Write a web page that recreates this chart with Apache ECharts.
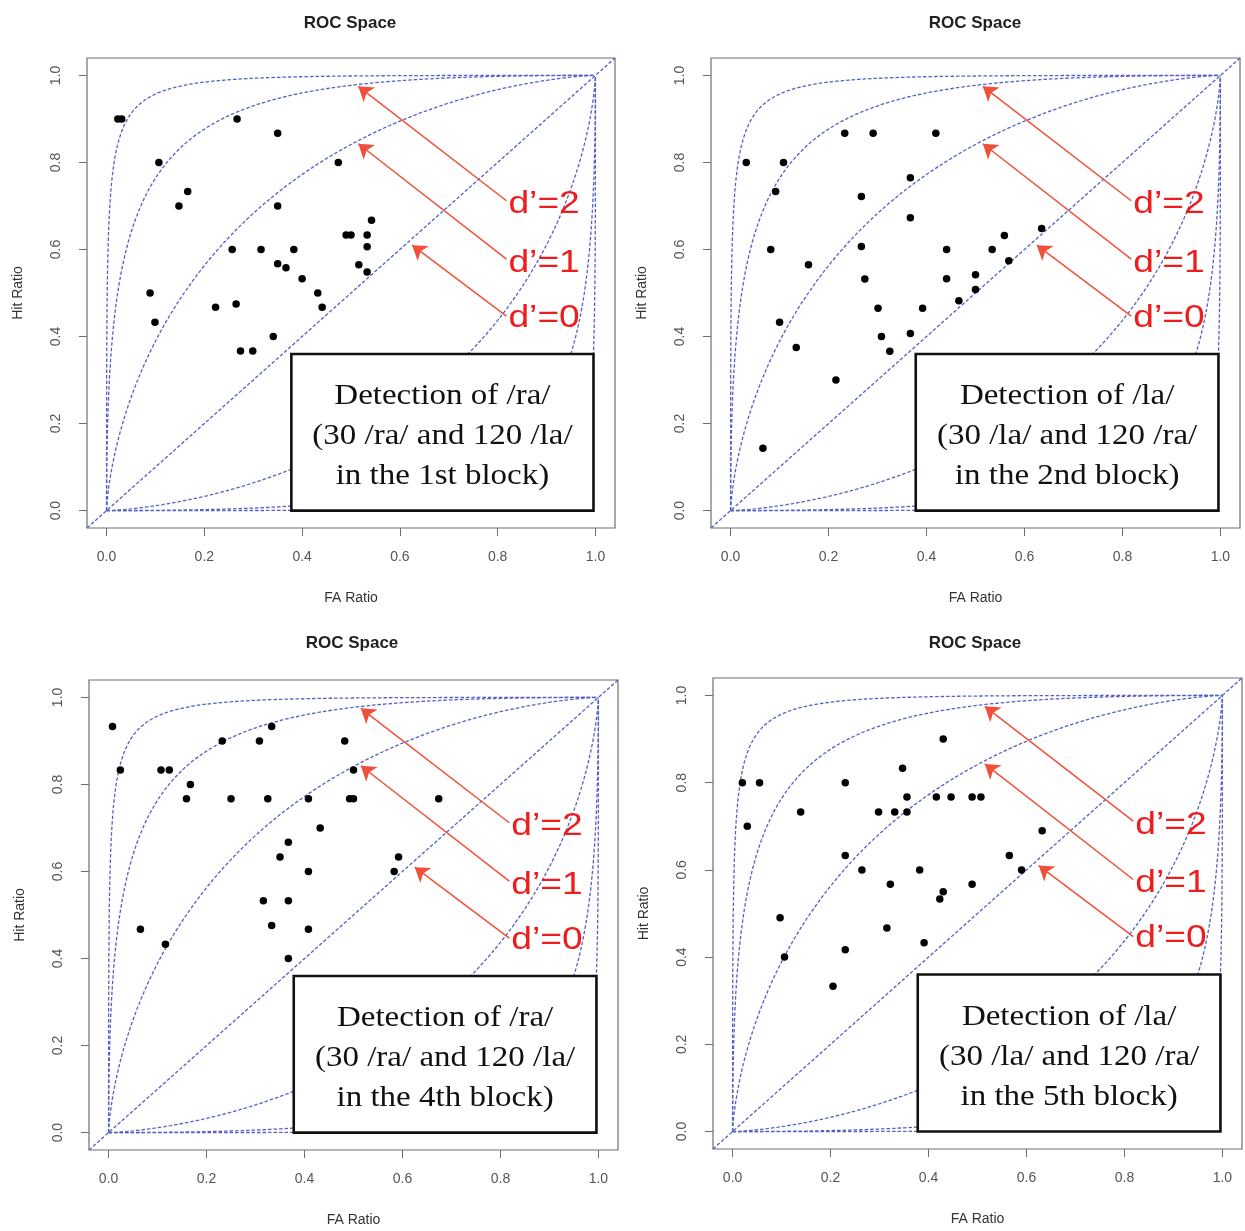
<!DOCTYPE html>
<html><head><meta charset="utf-8">
<script src="https://cdn.jsdelivr.net/npm/echarts@6/dist/echarts.min.js"></script>
<style>html,body{margin:0;padding:0;background:#fff}#c{width:1245px;height:1231px}</style>
</head><body><div id="c"></div>
<script>
// ---------- data ----------
const tickValues = [0, 0.2, 0.4, 0.6, 0.8, 1.0];
const dPrimes = [-3, -2, -1, 0, 1, 2, 3];
const arrowLabels = ["d\u2019=2", "d\u2019=1", "d\u2019=0"];
const panelTitle = "ROC Space";
const xName = "FA Ratio";
const yName = "Hit Ratio";

const fa1 = [0.023,0.031,0.267,0.350,0.107,0.474,0.166,0.148,0.350,0.542,0.490,0.500,0.533,0.533,0.257,0.316,0.383,0.350,0.367,0.400,0.516,0.533,0.432,0.441,0.089,0.099,0.223,0.265,0.341,0.274,0.299];
const hit1 = [0.900,0.900,0.900,0.867,0.800,0.800,0.733,0.700,0.700,0.667,0.633,0.633,0.633,0.606,0.600,0.600,0.600,0.567,0.558,0.533,0.565,0.548,0.500,0.467,0.500,0.433,0.467,0.475,0.400,0.367,0.367];

const fa2 = [0.233,0.291,0.419,0.032,0.108,0.092,0.367,0.267,0.367,0.635,0.559,0.082,0.267,0.441,0.534,0.568,0.159,0.274,0.441,0.500,0.500,0.466,0.301,0.392,0.100,0.308,0.367,0.325,0.134,0.215,0.066];
const hit2 = [0.867,0.867,0.867,0.800,0.800,0.733,0.765,0.722,0.673,0.648,0.632,0.600,0.607,0.600,0.600,0.574,0.565,0.532,0.533,0.542,0.508,0.482,0.465,0.465,0.433,0.400,0.407,0.366,0.375,0.300,0.143];

const fa3 = [0.008,0.024,0.107,0.124,0.167,0.159,0.250,0.325,0.408,0.492,0.500,0.674,0.232,0.308,0.333,0.482,0.500,0.432,0.367,0.350,0.592,0.408,0.583,0.316,0.367,0.065,0.333,0.408,0.116,0.367];
const hit3 = [0.933,0.833,0.833,0.833,0.800,0.767,0.767,0.767,0.767,0.767,0.767,0.767,0.900,0.900,0.933,0.900,0.833,0.700,0.667,0.633,0.633,0.600,0.600,0.533,0.533,0.467,0.476,0.467,0.433,0.400];

const fa4 = [0.430,0.347,0.020,0.055,0.230,0.356,0.416,0.446,0.489,0.507,0.139,0.298,0.331,0.356,0.030,0.632,0.230,0.565,0.264,0.382,0.590,0.322,0.489,0.430,0.423,0.097,0.315,0.391,0.230,0.106,0.205];
const hit4 = [0.900,0.833,0.800,0.800,0.800,0.767,0.767,0.767,0.767,0.767,0.733,0.733,0.733,0.733,0.700,0.690,0.633,0.633,0.600,0.600,0.600,0.567,0.567,0.550,0.533,0.490,0.467,0.433,0.417,0.400,0.333];

const boxText1 = ["Detection of /ra/", "(30 /ra/ and 120 /la/", "in the 1st block)"];
const boxText2 = ["Detection of /la/", "(30 /la/ and 120 /ra/", "in the 2nd block)"];
const boxText3 = ["Detection of /ra/", "(30 /ra/ and 120 /la/", "in the 4th block)"];
const boxText4 = ["Detection of /la/", "(30 /la/ and 120 /ra/", "in the 5th block)"];

// ---------- layout ----------
const AX_MIN = -0.04, AX_MAX = 1.04;
const grids = [
  {left: 87, top: 58, width: 528, height: 470},
  {left: 711, top: 58, width: 529, height: 470},
  {left: 89, top: 680, width: 529, height: 470},
  {left: 713, top: 678, width: 529, height: 471}
];
const titlePos = [[345, 10], [970, 10], [347, 630], [970, 630]];
const panels = [
  {fa: fa1, hit: hit1, box: boxText1},
  {fa: fa2, hit: hit2, box: boxText2},
  {fa: fa3, hit: hit3, box: boxText3},
  {fa: fa4, hit: hit4, box: boxText4}
];

// standard normal CDF
function erf(x){
  const s = x < 0 ? -1 : 1; x = Math.abs(x);
  const t = 1/(1+0.3275911*x);
  const y = 1 - (((((1.061405429*t - 1.453152027)*t) + 1.421413741)*t - 0.284496736)*t + 0.254829592)*t*Math.exp(-x*x);
  return s*y;
}
function Phi(z){ return 0.5*(1+erf(z/Math.SQRT2)); }
function isoCurve(d){
  if (d === 0) return [[AX_MIN, AX_MIN], [AX_MAX, AX_MAX]];
  const pts = [];
  for (let z = -7; z <= 7.0001; z += 0.02) pts.push([Phi(z), Phi(z + d)]);
  return pts;
}

const curveColor = '#5560c6';
const option = {
  animation: false,
  backgroundColor: '#fff',
  title: [], grid: [], xAxis: [], yAxis: [], series: []
};

panels.forEach((p, i) => {
  const g = grids[i];
  option.grid.push({left: g.left, top: g.top, width: g.width, height: g.height, show: true,
    borderColor: '#6e6e6e', borderWidth: 1.2, backgroundColor: 'transparent', containLabel: false});
  option.title.push({text: panelTitle, left: titlePos[i][0], top: titlePos[i][1], textAlign: 'center',
    textStyle: {fontFamily: 'Liberation Sans, Arial', fontWeight: 'bold', fontSize: 17, color: '#222'}});
  option.xAxis.push({type: 'value', gridIndex: i, min: AX_MIN, max: AX_MAX,
    name: xName, nameLocation: 'middle', nameGap: 63,
    nameTextStyle: {fontFamily: 'Liberation Sans, Arial', fontSize: 14, color: '#333'},
    axisLine: {show: false, onZero: false}, splitLine: {show: false},
    axisTick: {show: true, inside: false, length: 8, customValues: tickValues, lineStyle: {color: '#6e6e6e'}},
    axisLabel: {customValues: tickValues, margin: 22, fontFamily: 'Liberation Sans, Arial', fontSize: 14, color: '#555',
      formatter: v => v.toFixed(1)}});
  option.yAxis.push({type: 'value', gridIndex: i, min: AX_MIN, max: AX_MAX,
    name: yName, nameLocation: 'middle', nameGap: 62,
    nameTextStyle: {fontFamily: 'Liberation Sans, Arial', fontSize: 14, color: '#333'},
    axisLine: {show: false, onZero: false}, splitLine: {show: false},
    axisTick: {show: true, inside: false, length: 8, customValues: tickValues, lineStyle: {color: '#6e6e6e'}},
    axisLabel: {customValues: tickValues, rotate: 90, margin: 24, fontFamily: 'Liberation Sans, Arial', fontSize: 14, color: '#555',
      formatter: v => v.toFixed(1)}});
  dPrimes.forEach(d => {
    option.series.push({type: 'line', xAxisIndex: i, yAxisIndex: i, data: isoCurve(d), showSymbol: false,
      silent: true, z: 2, lineStyle: {color: curveColor, width: 1.3, type: [3.5, 2]}});
  });
  option.series.push({type: 'scatter', xAxisIndex: i, yAxisIndex: i, symbolSize: 7.5, z: 5,
    itemStyle: {color: '#000', opacity: 1}, data: p.fa.map((x, k) => [x, p.hit[k]])});
  option.series.push({type: 'lines', coordinateSystem: 'cartesian2d', xAxisIndex: i, yAxisIndex: i, z: 6,
    symbol: ['none', 'arrow'], symbolSize: [0, 14],
    lineStyle: {color: '#f0503a', width: 1.5, opacity: 1},
    data: [
      {coords: [[0.818, 0.712], [0.515, 0.975]]},
      {coords: [[0.818, 0.578], [0.515, 0.843]]},
      {coords: [[0.818, 0.447], [0.625, 0.610]]}
    ]});
});

const chart = echarts.init(document.getElementById('c'), null, {renderer: 'canvas'});
chart.setOption(option);

// annotations positioned through the axes
const graphics = [];
panels.forEach((p, i) => {
  const px = (x, y) => chart.convertToPixel({gridIndex: i}, [x, y]);
  const labelY = [0.703, 0.568, 0.442];
  arrowLabels.forEach((t, k) => {
    const pt = px(0.822, labelY[k]);
    graphics.push({type: 'text', x: pt[0], y: pt[1], scaleX: 1.2, z: 120,
      style: {text: t, fill: '#ee1c1c', font: '31px "Liberation Sans", Arial', textAlign: 'left', textVerticalAlign: 'middle'}});
  });
  const tl = px(0.378, 0.36), br = px(0.996, 0.0);
  graphics.push({type: 'rect', z: 110, shape: {x: tl[0], y: tl[1], width: br[0] - tl[0], height: br[1] - tl[1]},
    style: {fill: '#fff', stroke: '#111', lineWidth: 2.6}});
  const lineY = [0.262, 0.171, 0.080];
  p.box.forEach((t, k) => {
    const pt = px(0.687, lineY[k]);
    graphics.push({type: 'text', x: pt[0], y: pt[1], scaleX: 1.1, z: 115,
      style: {text: t, fill: '#111', font: '30px "Liberation Serif", "Times New Roman"', textAlign: 'center', textVerticalAlign: 'middle'}});
  });
});
chart.setOption({graphic: graphics});
</script></body></html>
